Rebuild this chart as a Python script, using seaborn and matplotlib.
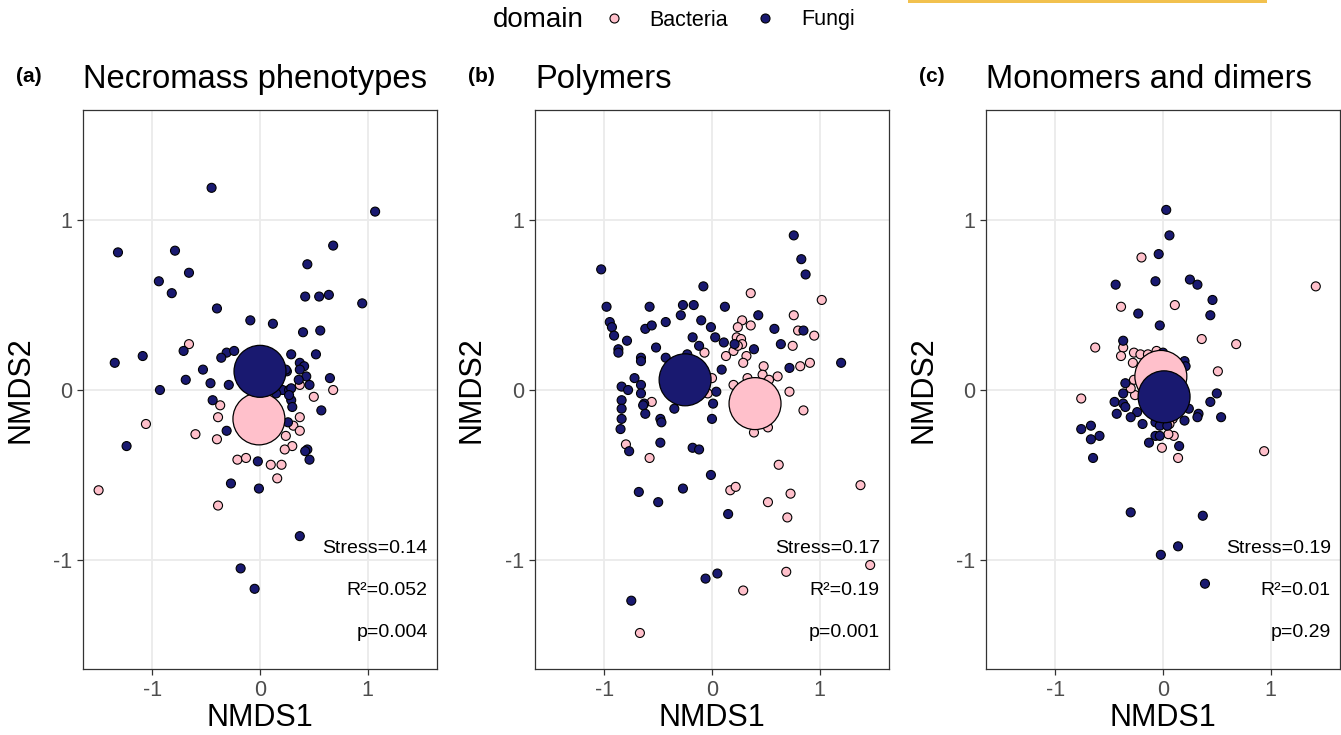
import numpy as np
import pandas as pd
import matplotlib
matplotlib.use("Agg")
import matplotlib.pyplot as plt
from matplotlib.lines import Line2D
import seaborn as sns

# ---------------- data (NMDS scores) ----------------
a_fungi_x = [-0.45, 1.07, -1.32, -0.79, 0.68, 0.44, -0.66, -0.94, -0.82, 0.42, 0.55, 0.64, 0.95, -0.40,
             -0.09, 0.12, 0.40, 0.56, -1.35, -1.09, -0.71, -0.31, -0.24, -0.36, 0.29, 0.52, -0.53, 0.37,
             0.41, 0.37, 0.43, 0.36, 0.46, 0.25, 0.65, -0.93, -0.69, -0.46, -0.29, 0.21, 0.27, -0.44,
             0.29, 0.30, 0.57, 0.26, -0.31, -1.24, 0.44, 0.42, 0.46, -0.02, -0.27, -0.01, 0.37, -0.18,
             -0.05, 0.29, 0.27, 0.15, 0.24]
a_fungi_y = [1.19, 1.05, 0.81, 0.82, 0.85, 0.74, 0.69, 0.64, 0.57, 0.55, 0.55, 0.56, 0.51, 0.48,
             0.41, 0.39, 0.34, 0.35, 0.16, 0.20, 0.23, 0.22, 0.23, 0.19, 0.21, 0.21, 0.12, 0.16,
             0.14, 0.12, 0.08, 0.06, 0.03, 0.11, 0.07, 0.00, 0.06, 0.04, 0.03, 0.00, 0.00, -0.06,
             -0.06, -0.10, -0.12, -0.19, -0.24, -0.33, -0.35, -0.36, -0.41, -0.42, -0.55, -0.58, -0.86, -1.05,
             -1.17, 0.01, -0.03, -0.02, 0.12]
a_bact_x = [-0.66, 0.37, 0.68, 0.50, -0.37, -0.39, -1.06, 0.37, 0.31, 0.37, -0.60, -0.40, 0.24, 0.30,
            0.23, -0.21, -0.13, 0.10, 0.20, 0.16, -1.50, -0.39]
a_bact_y = [0.27, 0.03, 0.00, -0.04, -0.09, -0.16, -0.20, -0.16, -0.21, -0.24, -0.26, -0.29, -0.27, -0.33,
            -0.35, -0.41, -0.40, -0.44, -0.44, -0.52, -0.59, -0.68]

b_fungi_x = [-1.03, 0.76, 0.83, 0.87, -0.08, -0.98, -0.58, -0.27, -0.17, -0.29, 0.12, -0.95, -0.93, -0.91,
             -0.79, -0.87, -0.87, -0.62, -0.56, -0.43, -0.10, -0.01, -0.18, 0.03, 0.11, -0.12, 0.21, 0.43,
             0.58, 0.85, 0.64, 0.39, -0.52, -0.66, -0.66, -0.43, 0.09, 0.72, 1.20, -0.72, -0.84, -0.78,
             -0.66, -0.66, -0.84, -0.84, -0.84, -0.85, -0.63, -0.64, -0.62, -0.48, -0.47, -0.35, 0.04, 0.01,
             0.00, -0.48, -0.18, -0.12, -0.77, -0.01, -0.68, -0.27, -0.50, 0.15, -0.06, 0.05, -0.75, -0.23]
b_fungi_y = [0.71, 0.91, 0.77, 0.68, 0.61, 0.49, 0.49, 0.50, 0.50, 0.44, 0.49, 0.40, 0.37, 0.32,
             0.29, 0.24, 0.22, 0.36, 0.38, 0.40, 0.41, 0.37, 0.31, 0.31, 0.28, 0.26, 0.27, 0.44,
             0.36, 0.35, 0.27, 0.24, 0.25, 0.19, 0.17, 0.19, 0.12, 0.13, 0.16, 0.07, 0.02, 0.00,
             0.03, -0.02, -0.06, -0.11, -0.17, -0.23, -0.08, -0.09, -0.14, -0.17, -0.19, -0.11, -0.01, -0.08,
             -0.17, -0.31, -0.34, -0.35, -0.36, -0.50, -0.60, -0.58, -0.66, -0.73, -1.11, -1.08, -1.24, 0.21]
b_bact_x = [0.36, 1.02, 0.76, 0.28, 0.24, 0.36, 0.80, 0.95, 0.23, 0.27, 0.28, 0.75, -0.07, 0.13,
            0.20, 0.32, 0.29, 0.48, 0.47, 0.61, 0.53, 0.33, 0.91, 0.82, 0.20, 0.00, -0.04, 0.72,
            0.85, -0.56, 0.39, 0.52, -0.80, -0.58, 0.62, 0.17, 0.22, 0.73, 0.52, 0.70, 1.38, 1.47,
            0.69, 0.29, -0.67, 0.24]
b_bact_y = [0.57, 0.53, 0.44, 0.41, 0.37, 0.38, 0.35, 0.32, 0.31, 0.30, 0.27, 0.26, 0.22, 0.20,
            0.23, 0.20, 0.16, 0.14, 0.09, 0.08, 0.06, 0.07, 0.16, 0.14, 0.03, 0.07, -0.02, -0.01,
            -0.12, -0.07, -0.25, -0.22, -0.32, -0.40, -0.44, -0.59, -0.57, -0.61, -0.66, -0.75, -0.56, -1.03,
            -1.07, -1.18, -1.43, 0.26]

c_fungi_x = [0.03, 0.06, -0.04, -0.44, -0.07, 0.25, 0.32, 0.46, 0.44, -0.23, -0.03, -0.37, 0.20, 0.21,
             0.50, 0.44, 0.54, 0.33, 0.32, 0.24, 0.20, -0.35, -0.37, -0.45, -0.37, -0.35, -0.43, -0.24,
             -0.30, -0.19, -0.76, -0.67, -0.59, -0.07, -0.03, 0.04, -0.02, -0.67, -0.65, -0.07, -0.03, -0.13,
             0.15, -0.30, 0.37, 0.14, -0.02, 0.39, 0.00]
c_fungi_y = [1.06, 0.91, 0.80, 0.62, 0.64, 0.65, 0.62, 0.53, 0.44, 0.45, 0.38, 0.29, 0.17, 0.14,
             -0.02, -0.07, -0.16, -0.14, -0.16, -0.11, -0.18, 0.04, -0.02, -0.07, -0.08, -0.10, -0.14, -0.13,
             -0.16, -0.20, -0.23, -0.21, -0.27, -0.19, -0.21, -0.21, 0.21, -0.29, -0.40, -0.27, -0.27, -0.31,
             -0.33, -0.72, -0.74, -0.92, -0.97, -1.14, 0.22]
c_bact_x = [-0.20, 1.42, -0.39, 0.11, 0.36, 0.68, -0.63, -0.37, -0.39, -0.27, -0.21, -0.28, -0.06, -0.14,
            0.51, -0.76, -0.27, -0.26, -0.30, 0.09, 0.06, 0.10, 0.05, -0.01, 0.14, 0.94]
c_bact_y = [0.78, 0.61, 0.49, 0.50, 0.30, 0.27, 0.25, 0.25, 0.20, 0.22, 0.21, 0.16, 0.23, 0.21,
            0.11, -0.05, 0.06, -0.03, 0.01, -0.17, -0.20, -0.27, -0.26, -0.34, -0.40, -0.36]

# group centroids (large circles): [Bacteria, Fungi]
a_cent_x, a_cent_y = [-0.01, 0.00], [-0.17, 0.11]
b_cent_x, b_cent_y = [0.40, -0.25], [-0.08, 0.06]
c_cent_x, c_cent_y = [-0.02, 0.01], [0.08, -0.04]

domains = ["Bacteria", "Fungi"]
titles = ["Necromass phenotypes", "Polymers", "Monomers and dimers"]
panel_tags = ["(a)", "(b)", "(c)"]
stress_vals = ["0.14", "0.17", "0.19"]
r2_vals = ["0.052", "0.19", "0.01"]
p_vals = ["0.004", "0.001", "0.29"]
tick_vals = [-1, 0, 1]
tick_labels = ["-1", "0", "1"]

palette = {"Bacteria": "#FFC0CB", "Fungi": "#191970"}

panels = [
    (a_fungi_x, a_fungi_y, a_bact_x, a_bact_y, a_cent_x, a_cent_y),
    (b_fungi_x, b_fungi_y, b_bact_x, b_bact_y, b_cent_x, b_cent_y),
    (c_fungi_x, c_fungi_y, c_bact_x, c_bact_y, c_cent_x, c_cent_y),
]

# ---------------- style ----------------
sns.set_style("white")
plt.rcParams["font.family"] = ["Liberation Sans", "DejaVu Sans"]
plt.rcParams["text.color"] = "black"
plt.rcParams["axes.labelcolor"] = "black"

W, H = 1341, 735
fig = plt.figure(figsize=(W / 100, H / 100), dpi=100)
fig.patch.set_facecolor("white")

ax_w = 354 / W
ax_h = 559 / H
ax_bottom = (H - 669) / H
lefts = [83 / W, 535 / W, 986 / W]

for i, (fx, fy, bx, by, cx, cy) in enumerate(panels):
    ax = fig.add_axes([lefts[i], ax_bottom, ax_w, ax_h])
    pts = pd.DataFrame({
        "NMDS1": list(bx) + list(fx),
        "NMDS2": list(by) + list(fy),
        "domain": ["Bacteria"] * len(bx) + ["Fungi"] * len(fx),
    })
    cent = pd.DataFrame({"NMDS1": cx, "NMDS2": cy, "domain": domains})

    sns.scatterplot(data=pts, x="NMDS1", y="NMDS2", hue="domain", palette=palette,
                    hue_order=domains, s=42, edgecolor="black", linewidth=0.8,
                    legend=False, ax=ax, zorder=3)
    sns.scatterplot(data=cent, x="NMDS1", y="NMDS2", hue="domain", palette=palette,
                    hue_order=domains, s=1400, edgecolor="black", linewidth=0.9,
                    legend=False, ax=ax, zorder=4)

    ax.set_xlim(-1.645, 1.645)
    ax.set_ylim(-1.642, 1.648)
    ax.set_xticks(tick_vals)
    ax.set_xticklabels(tick_labels)
    ax.set_yticks(tick_vals)
    ax.set_yticklabels(tick_labels)
    ax.grid(True, color="#EBEBEB", linewidth=1.3, zorder=0)
    ax.set_axisbelow(True)
    for sp in ax.spines.values():
        sp.set_color("#333333")
        sp.set_linewidth(0.9)
    ax.tick_params(axis="both", which="major", direction="out", length=4, width=0.9,
                   color="#333333", labelcolor="#4D4D4D", labelsize=15.5, pad=4,
                   bottom=True, left=True)

    ax.set_xlabel("NMDS1", fontsize=22, color="black")
    ax.set_ylabel("NMDS2", fontsize=22, color="black")
    ax.xaxis.set_label_coords(0.5, (669 - 718) / 559)
    ax.xaxis.label.set_va("center")
    ax.yaxis.set_label_coords((20 - 83) / 354, 0.5)
    ax.yaxis.label.set_va("center")

    ax.set_title(titles[i], loc="left", fontsize=23.6, pad=16, color="black")

    tx = 1.56
    ax.text(tx, -0.93, f"Stress={stress_vals[i]}", ha="right", va="center", fontsize=14, color="black")
    ax.text(tx, -1.18, f"R\u00b2={r2_vals[i]}", ha="right", va="center", fontsize=14, color="black")
    ax.text(tx, -1.43, f"p={p_vals[i]}", ha="right", va="center", fontsize=14, color="black")

    fig.text((lefts[i] * W - 67) / W, 1 - 76 / H, panel_tags[i], fontsize=15,
             fontweight="bold", ha="left", va="center", color="black")

# ---------------- legend ----------------
fig.text(584 / W, 1 - 20 / H, "domain", fontsize=20, ha="right", va="center", color="black")
handles = [Line2D([0], [0], marker="o", linestyle="none", markersize=6.5,
                  markerfacecolor=palette[d], markeredgecolor="black", markeredgewidth=0.8)
           for d in domains]
fig.legend(handles, domains, loc="center left", bbox_to_anchor=(603 / W, 1 - 20 / H),
           ncol=2, frameon=False, fontsize=15.5, handlelength=1.0, handletextpad=1.17,
           columnspacing=1.22, borderpad=0, borderaxespad=0, labelcolor="black")

# thin yellow bar at the top right
fig.add_artist(plt.Rectangle((908 / W, 1 - 3 / H), (1267 - 908) / W, 3 / H,
                             transform=fig.transFigure, color="#F2C14E", lw=0))

fig.savefig("out.png", dpi=100, facecolor="white")
